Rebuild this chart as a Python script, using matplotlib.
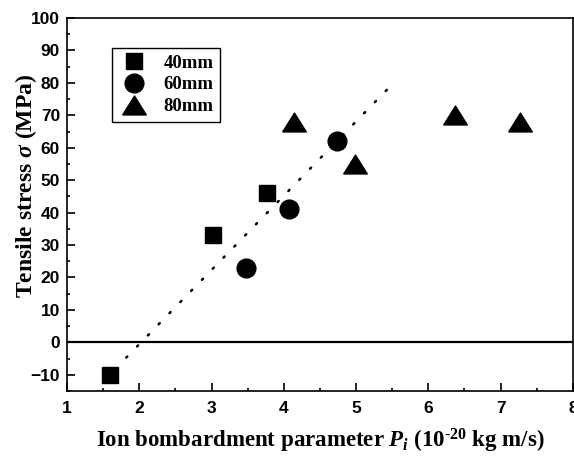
import matplotlib
matplotlib.use("Agg")
import matplotlib.pyplot as plt
from matplotlib.ticker import MultipleLocator

plt.rcParams["mathtext.fontset"] = "custom"
plt.rcParams["mathtext.rm"] = "Liberation Serif:bold"
plt.rcParams["mathtext.it"] = "Liberation Serif:italic:bold"
plt.rcParams["mathtext.bf"] = "Liberation Serif:bold"

# Ion bombardment parameter (1e-20 kg m/s) and tensile stress (MPa) per distance
x_40 = [1.59, 3.02, 3.77]
y_40 = [-10, 33, 46]
x_60 = [3.48, 4.07, 4.73]
y_60 = [23, 41, 62]
x_80 = [4.14, 4.99, 6.37, 7.27]
y_80 = [68, 55, 70, 68]
labels = ["40mm", "60mm", "80mm"]

# Linear trend through the data
fit_x = [1.82, 5.45]
fit_y = [-4.7, 78.4]

fig = plt.figure(figsize=(5.74, 4.59), dpi=100)
ax = fig.add_axes([0.1167, 0.1482, 0.8813, 0.8126])

tri = [(-1, -0.8), (1, -0.8), (0, 0.8), (-1, -0.8)]

ax.plot(x_40, y_40, ls="none", marker="s", ms=12, color="black", label=labels[0])
ax.plot(x_60, y_60, ls="none", marker="o", ms=13.5, color="black", label=labels[1])
ax.plot(x_80, y_80, ls="none", marker=tri, ms=17, color="black", label=labels[2])

ax.plot(fit_x, fit_y, color="black", lw=1.8, ls=(0, (0.6, 5.6)),
        dash_capstyle="round")
ax.axhline(0, color="black", lw=1.6)

ax.set_xlim(1, 8)
ax.set_ylim(-15, 100)
ax.xaxis.set_major_locator(MultipleLocator(1))
ax.xaxis.set_minor_locator(MultipleLocator(0.5))
ax.yaxis.set_major_locator(MultipleLocator(10))
ax.yaxis.set_minor_locator(MultipleLocator(5))
ax.tick_params(which="both", direction="in", top=False, right=False, width=1.2)
ax.tick_params(which="major", length=5.5)
ax.tick_params(axis="x", which="major", pad=7)
ax.tick_params(axis="y", which="major", pad=5)
ax.tick_params(which="minor", length=2.5)
for lab in ax.get_xticklabels() + ax.get_yticklabels():
    lab.set_fontfamily("Liberation Sans")
    lab.set_fontweight("bold")
    lab.set_fontsize(12.5)
for s in ax.spines.values():
    s.set_linewidth(1.2)

ax.set_ylabel(r"Tensile stress $\sigma$ (MPa)", family="Liberation Serif",
              weight="bold", fontsize=17)
ax.yaxis.set_label_coords(-0.056, 0.55)
ax.set_xlabel(r"Ion bombardment parameter $P_i$ (10$^{\text{-20}}$ kg m/s)",
              family="Liberation Serif", weight="bold", fontsize=16.5, labelpad=8)

leg = ax.legend(loc="upper left", bbox_to_anchor=(0.089, 0.92),
                borderaxespad=0,
                prop={"family": "Liberation Serif", "weight": "bold", "size": 13.5},
                frameon=True, fancybox=False, edgecolor="black", framealpha=1,
                handlelength=1.6, handletextpad=0.8, labelspacing=0.25,
                borderpad=0.35, numpoints=1)
leg.get_frame().set_linewidth(1.0)

fig.savefig("out.png", dpi=100)
